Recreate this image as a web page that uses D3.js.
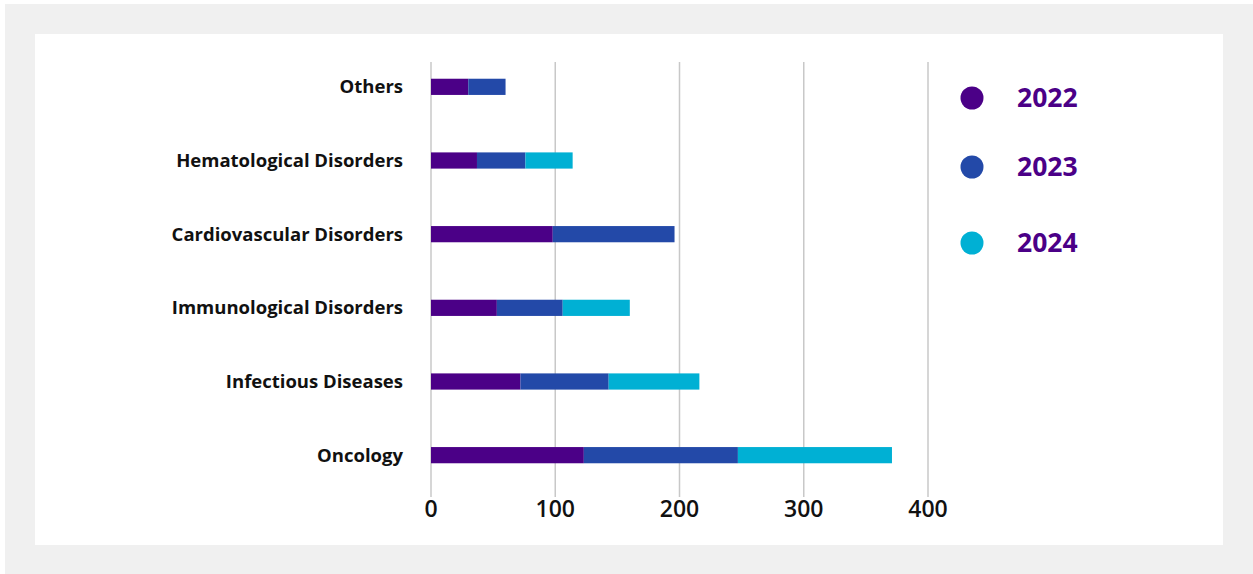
<!DOCTYPE html>
<html>
   <head>
      <script src="https://d3js.org/d3.v7.min.js"></script>
   </head>
   <style>
      body { margin: 0; }
   </style>
   <body>
      <script>
         let [width, height] = [1253, 574];

         let categories = ['Others', 'Hematological Disorders', 'Cardiovascular Disorders', 'Immunological Disorders', 'Infectious Diseases', 'Oncology'];
         let years = ['2022', '2023', '2024'];
         let v2022 = [30, 37, 98, 53, 72, 123];
         let v2023 = [30, 39, 98, 53, 71, 124];
         let v2024 = [0, 38, 0, 54, 73, 124];
         let ticks = [0, 100, 200, 300, 400];
         let colors = ['#4b0087', '#2349a8', '#00b0d4'];

         let svg = d3.select('body').append('svg').attr('width', width).attr('height', height);

         // panel background
         svg.append('rect').attr('x', 5).attr('y', 4).attr('width', width - 5).attr('height', height - 4).attr('fill', '#f0f0f0');
         svg.append('rect').attr('x', 35).attr('y', 34).attr('width', 1188).attr('height', 511).attr('fill', '#ffffff');

         let x = d3.scaleLinear().domain([0, 400]).range([431, 928]);
         let y = d3.scaleBand().domain(categories).range([50, 492]).paddingInner(0.78).paddingOuter(0.39);

         // grid
         svg.selectAll('.grid')
            .data(ticks)
            .enter()
            .append('line')
               .attr('x1', d => x(d)).attr('x2', d => x(d))
               .attr('y1', 62).attr('y2', 497)
               .attr('stroke', '#c8c8c8')
               .attr('stroke-width', 1.5);

         // stacked bars
         let rows = categories.map((c, i) => ({ cat: c, '2022': v2022[i], '2023': v2023[i], '2024': v2024[i] }));
         let stacked = d3.stack().keys(years)(rows);

         svg.selectAll('.series')
            .data(stacked)
            .enter()
            .append('g')
               .attr('fill', (d, i) => colors[i])
            .selectAll('rect')
            .data(d => d)
            .enter()
            .append('rect')
               .attr('x', d => x(d[0]))
               .attr('y', d => y(d.data.cat))
               .attr('width', d => x(d[1]) - x(d[0]))
               .attr('height', y.bandwidth());

         // category labels
         svg.selectAll('.cat')
            .data(categories)
            .enter()
            .append('text')
               .text(d => d)
               .attr('x', 403)
               .attr('y', d => y(d) + y.bandwidth() / 2)
               .attr('dy', '0.35em')
               .style('text-anchor', 'end')
               .style('font-size', '18.5px')
               .style('font-weight', 'bold')
               .style('font-family', 'Open Sans')
               .style('fill', '#111');

         // axis labels
         svg.selectAll('.tick')
            .data(ticks)
            .enter()
            .append('text')
               .text(d => d)
               .attr('x', d => x(d))
               .attr('y', 509)
               .attr('dy', '0.35em')
               .style('text-anchor', 'middle')
               .style('font-size', '23px')
               .style('font-family', 'Open Sans')
               .style('font-weight', '600')
               .style('fill', '#111');

         // legend
         let legendY = [98, 167, 243];
         let legend = svg.selectAll('.legend')
            .data(years)
            .enter()
            .append('g')
               .attr('transform', (d, i) => `translate(972, ${legendY[i]})`);
         legend.append('circle').attr('r', 11.5).attr('fill', (d, i) => colors[i]);
         legend.append('text')
            .text(d => d)
            .attr('x', 45)
            .attr('dy', '0.35em')
            .style('font-size', '26.5px')
            .style('font-weight', 'bold')
            .style('font-family', 'Open Sans')
            .style('fill', '#4b0087');
      </script>
   </body>
</html>
